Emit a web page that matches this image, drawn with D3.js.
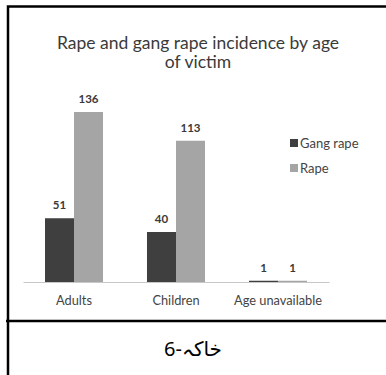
<!DOCTYPE html>
<html>
<head>
<meta charset="utf-8">
<script src="https://cdn.jsdelivr.net/npm/d3@7"></script>
<style>
  body { margin: 0; background: #fff; }
  svg { display: block; }
</style>
</head>
<body>
<div id="chart"></div>
<script>
const categories = ["Adults", "Children", "Age unavailable"];
const seriesNames = ["Gang rape", "Rape"];
const gangRape = [51, 40, 1];
const rape = [136, 113, 1];
const seriesColors = ["#3f3f3f", "#a5a5a5"];

const W = 386, H = 375;
const svg = d3.select("#chart").append("svg")
  .attr("width", W).attr("height", H);

svg.append("rect").attr("width", W).attr("height", H).attr("fill", "#fff");

// frame lines (table cell borders)
const frame = svg.append("g").attr("stroke", "#000").attr("stroke-width", 2.5).attr("fill", "none");
frame.append("path").attr("d", "M8,375 L8,6.5 L386,6.5");
frame.append("path").attr("d", "M6,321 L386,321");

// title
const title = svg.append("text")
  .attr("text-anchor", "middle")
  .attr("font-family", "Lato, 'Open Sans', sans-serif")
  .attr("font-size", 17.5)
  .attr("fill", "#3a3a3a");
title.append("tspan").attr("x", 198).attr("y", 49).text("Rape and gang rape incidence by age");
title.append("tspan").attr("x", 198).attr("y", 68).text("of victim");

// scales
const x0 = d3.scaleBand()
  .domain(categories)
  .range([23, 329])
  .paddingInner(0.431)
  .paddingOuter(0.2157);

const x1 = d3.scaleBand()
  .domain(seriesNames)
  .range([0, x0.bandwidth()]);

const baseY = 282;
const y = d3.scaleLinear().domain([0, 136]).range([baseY, 112]);

const rows = categories.map((c, i) => ({
  cat: c,
  values: [
    { key: seriesNames[0], value: gangRape[i], color: seriesColors[0] },
    { key: seriesNames[1], value: rape[i], color: seriesColors[1] }
  ]
}));

const groups = svg.selectAll(".cat")
  .data(rows)
  .join("g")
  .attr("class", "cat")
  .attr("transform", d => `translate(${x0(d.cat)},0)`);

groups.selectAll("rect")
  .data(d => d.values)
  .join("rect")
  .attr("x", d => x1(d.key))
  .attr("width", x1.bandwidth())
  .attr("y", d => y(d.value))
  .attr("height", d => baseY - y(d.value))
  .attr("fill", d => d.color);

groups.selectAll(".val")
  .data(d => d.values)
  .join("text")
  .attr("class", "val")
  .attr("x", d => x1(d.key) + x1.bandwidth() / 2)
  .attr("y", d => y(d.value) - 9)
  .attr("text-anchor", "middle")
  .attr("font-family", "Lato, 'Open Sans', sans-serif")
  .attr("font-weight", "bold")
  .attr("font-size", 11.5)
  .attr("fill", "#3a3a3a")
  .text(d => d.value);

// baseline + category labels
const xAxis = svg.append("g")
  .attr("transform", `translate(0,${baseY})`)
  .call(d3.axisBottom(x0).tickSize(0).tickPadding(14));
xAxis.select(".domain").attr("stroke", "#c8c8c8").attr("stroke-width", 1);
xAxis.selectAll("text")
  .attr("font-family", "Lato, 'Open Sans', sans-serif")
  .attr("font-size", 12.8)
  .attr("fill", "#444");

// legend
const legend = svg.append("g").attr("transform", "translate(290,0)");
const legendY = [143, 168];
seriesNames.forEach((s, i) => {
  legend.append("rect")
    .attr("x", 0).attr("y", legendY[i] - 4)
    .attr("width", 8).attr("height", 8)
    .attr("fill", seriesColors[i]);
  legend.append("text")
    .attr("x", 10).attr("y", legendY[i] + 4.5)
    .attr("font-family", "Lato, 'Open Sans', sans-serif")
    .attr("font-size", 13)
    .attr("fill", "#444")
    .text(s);
});

// caption in lower cell
svg.append("text")
  .attr("x", 193).attr("y", 356)
  .attr("text-anchor", "middle")
  .attr("font-family", "'Noto Sans', 'DejaVu Sans', sans-serif")
  .attr("font-size", 20)
  .attr("fill", "#000")
  .text("خاکہ-6");
</script>
</body>
</html>
